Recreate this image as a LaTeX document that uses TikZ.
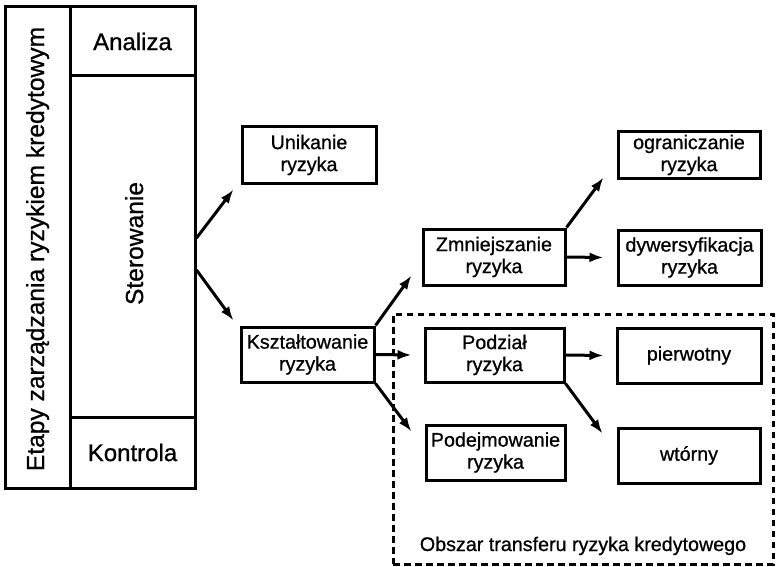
\documentclass[tikz,border=0pt]{standalone}
\usepackage{fontspec}
\setmainfont{Liberation Sans}
\newfontfamily\scanfont{Liberation Sans}[FakeBold=0.8]
\usetikzlibrary{arrows.meta}
\begin{document}
\begin{tikzpicture}[x=1pt,y=-1pt,
  box/.style={draw,line width=3pt,rectangle,inner sep=0pt,align=center,font=\scanfont\fontsize{19.7}{22}\selectfont},
  cell/.style={draw,line width=3pt,rectangle,inner sep=0pt,font=\scanfont\fontsize{24}{28}\selectfont},
  vtext/.style={font=\scanfont\fontsize{24.6}{28}\selectfont,rotate=90,anchor=base,inner sep=0pt},
  arr/.style={line width=3pt,-{Latex[length=14pt,width=10pt]}},
  area/.style={draw,line width=3pt,dash pattern=on 6.5pt off 4.5pt,rectangle,inner sep=0pt},
  ]
\useasboundingbox (0,0) rectangle (776,567);

% left column
\node[cell,minimum width=65pt,minimum height=481pt] (tcell) at (37.5,247.5) {};
\node[vtext] (title) at (44,249) {Etapy zarządzania ryzykiem kredytowym};
\node[cell,minimum width=125pt,minimum height=69pt] (anal) at (132.5,41.5) {Analiza};
\node[cell,minimum width=125pt,minimum height=341pt] (ster) at (132.5,246.5) {};
\node[vtext] (stertxt) at (143,243.5) {Sterowanie};
\node[cell,minimum width=125pt,minimum height=71pt] (kont) at (132.5,452.5) {Kontrola};

% dashed area
\node[area,minimum width=380pt,minimum height=250pt] (area) at (583,439) {};
\node[font=\scanfont\fontsize{19.7}{22}\selectfont,anchor=base,inner sep=0pt] (lbl) at (583,551) {Obszar transferu ryzyka kredytowego};

% boxes
\node[box,minimum width=134pt,minimum height=56pt] (unik) at (309,155) {Unikanie\\ryzyka};
\node[box,minimum width=133pt,minimum height=55pt] (ksz) at (307.5,354.5) {Kształtowanie\\ryzyka};
\node[box,minimum width=142pt,minimum height=56pt] (zmn) at (494,257) {Zmniejszanie\\ryzyka};
\node[box,minimum width=142pt,minimum height=46pt] (ogr) at (689,155) {ograniczanie\\ryzyka};
\node[box,minimum width=143pt,minimum height=55pt] (dyw) at (689.5,257.5) {dywersyfikacja\\ryzyka};
\node[box,minimum width=139pt,minimum height=54pt] (pod) at (494.5,355) {Podział\\ryzyka};
\node[box,minimum width=144pt,minimum height=55pt] (pie) at (689,355.5) {pierwotny};
\node[box,minimum width=139pt,minimum height=55pt] (pdj) at (495.5,452.5) {Podejmowanie\\ryzyka};
\node[box,minimum width=142pt,minimum height=55pt] (wto) at (689,455.5) {wtórny};

% arrows
\draw[arr] ([yshift=8.5pt]ster.east) -- ([xshift=-7pt,yshift=-5pt]unik.south west);
\draw[arr] ([yshift=-23.5pt]ster.east) -- ([xshift=-6pt,yshift=5pt]ksz.north west);
\draw[arr] (ksz.north east) -- ([xshift=-10pt,yshift=11pt]zmn.south west);
\draw[arr] (ksz.east) -- ([xshift=-12pt]pod.west);
\draw[arr] (ksz.south east) -- ([xshift=-13pt,yshift=-8pt]pdj.north west);
\draw[arr] (zmn.north east) -- ([xshift=-13pt,yshift=2pt]ogr.south west);
\draw[arr] (zmn.east) -- ([xshift=-13pt]dyw.west);
\draw[arr] (pod.east) -- ([xshift=-12pt]pie.west);
\draw[arr] (pod.south east) -- ([xshift=-14pt,yshift=-7pt]wto.north west);
\end{tikzpicture}
\end{document}
